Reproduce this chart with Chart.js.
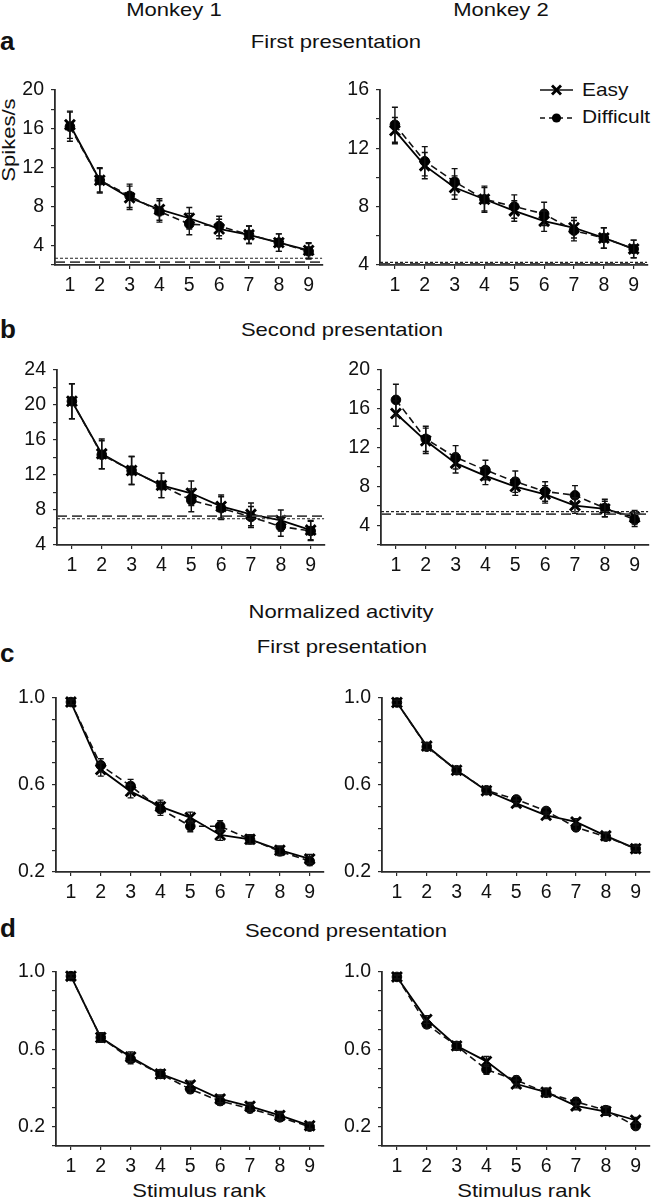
<!DOCTYPE html>
<html>
<head>
<meta charset="utf-8">
<script src="https://cdn.jsdelivr.net/npm/chart.js@4/dist/chart.umd.min.js"></script>
<style>
  html, body { margin: 0; padding: 0; background: #fff; }
  body { width: 653px; height: 1199px; position: relative; overflow: hidden;
         font-family: 'Liberation Sans', Arial, Helvetica, sans-serif; color: #111; }
  .t { position: absolute; font-size: 19px; line-height: 1; white-space: nowrap;
       transform: translateX(-50%) scaleX(1.16); transform-origin: center; }
  .lab { position: absolute; font-size: 26px; font-weight: bold; line-height: 1; left: 0; }
  .lg { position: absolute; font-size: 19px; line-height: 1; white-space: nowrap;
        transform: scaleX(1.1); transform-origin: left; }
  .ylab { position: absolute; font-size: 19px; line-height: 1; white-space: nowrap;
          transform: translate(-50%, -50%) rotate(-90deg) scaleX(1.16); }
  canvas { position: absolute; }
</style>
</head>
<body>

<div class="t" style="left:174px; top:0px;">Monkey 1</div>
<div class="t" style="left:501px; top:0px;">Monkey 2</div>

<div class="lab" style="top:28px;">a</div>
<div class="t" style="left:336px; top:32px;">First presentation</div>
<div class="lab" style="top:316px;">b</div>
<div class="t" style="left:342px; top:320px;">Second presentation</div>
<div class="t" style="left:341px; top:602px;">Normalized activity</div>
<div class="lab" style="top:640px;">c</div>
<div class="t" style="left:342px; top:637px;">First presentation</div>
<div class="lab" style="top:915px;">d</div>
<div class="t" style="left:346px; top:921px;">Second presentation</div>
<div class="t" style="left:199px; top:1181px;">Stimulus rank</div>
<div class="t" style="left:524px; top:1181px;">Stimulus rank</div>

<div class="ylab" style="left:8px; top:140px;">Spikes/s</div>

<!-- legend -->
<svg style="position:absolute; left:536px; top:80px;" width="42" height="48">
  <line x1="4" y1="10" x2="37" y2="10" stroke="#111" stroke-width="1.5"/>
  <line x1="16" y1="5.5" x2="25" y2="14.5" stroke="#000" stroke-width="2.8"/>
  <line x1="16" y1="14.5" x2="25" y2="5.5" stroke="#000" stroke-width="2.8"/>
  <line x1="4" y1="38" x2="37" y2="38" stroke="#111" stroke-width="1.5" stroke-dasharray="5,4"/>
  <circle cx="20.5" cy="38" r="4.6" fill="#000"/>
</svg>
<div class="lg" style="left:582px; top:80px;">Easy</div>
<div class="lg" style="left:582px; top:107px;">Difficult</div>

<canvas id="cA1"></canvas>
<canvas id="cA2"></canvas>
<canvas id="cB1"></canvas>
<canvas id="cB2"></canvas>
<canvas id="cC1"></canvas>
<canvas id="cC2"></canvas>
<canvas id="cD1"></canvas>
<canvas id="cD2"></canvas>

<script>
// ---------------- DATA ----------------
const ranks = [1, 2, 3, 4, 5, 6, 7, 8, 9];

// a: First presentation, spikes/s
const easyA1 = [16.4, 10.7, 8.9, 7.7, 6.8, 5.7, 5.1, 4.3, 3.5];
const diffA1 = [16.2, 10.7, 9.1, 7.5, 6.2, 6.0, 5.1, 4.3, 3.4];
const errEasyA1 = [1.4, 1.3, 1.2, 1.1, 1.1, 1.0, 0.9, 0.9, 0.8];
const errDiffA1 = [1.5, 1.2, 1.2, 1.1, 1.1, 1.0, 0.9, 0.9, 0.8];
const baseA1 = [2.7, 2.3];          // [short-dash, long-dash]

const easyA2 = [13.2, 10.8, 9.3, 8.5, 7.7, 7.0, 6.55, 5.85, 5.1];
const diffA2 = [13.6, 11.1, 9.7, 8.5, 8.0, 7.5, 6.35, 5.85, 5.1];
const errEasyA2 = [0.9, 0.9, 0.8, 0.8, 0.7, 0.7, 0.7, 0.7, 0.6];
const errDiffA2 = [1.2, 1.0, 0.9, 0.9, 0.8, 0.8, 0.7, 0.7, 0.6];
const baseA2 = [4.18, 4.08];

// b: Second presentation, spikes/s
const easyB1 = [20.4, 14.4, 12.5, 10.8, 9.9, 8.4, 7.5, 6.8, 5.7];
const diffB1 = [20.4, 14.3, 12.5, 10.8, 9.1, 8.2, 7.2, 6.1, 5.6];
const errEasyB1 = [2.0, 1.7, 1.6, 1.4, 1.4, 1.3, 1.3, 1.2, 1.1];
const errDiffB1 = [2.0, 1.6, 1.6, 1.4, 1.3, 1.3, 1.2, 1.1, 1.1];
const baseB1 = [7.0, 7.3];

const easyB2 = [15.5, 12.7, 10.4, 9.1, 8.0, 7.2, 6.05, 5.7, 4.85];
const diffB2 = [16.9, 12.9, 11.0, 9.7, 8.5, 7.5, 7.1, 5.8, 4.6];
const errEasyB2 = [1.3, 1.3, 1.0, 0.9, 0.9, 0.9, 0.8, 0.8, 0.7];
const errDiffB2 = [1.6, 1.3, 1.2, 1.0, 1.1, 1.0, 1.0, 0.9, 0.7];
const baseB2 = [5.43, 5.17];

// c: Normalized, first presentation
const easyC1 = [0.98, 0.67, 0.57, 0.50, 0.45, 0.37, 0.35, 0.30, 0.26];
const diffC1 = [0.98, 0.69, 0.595, 0.49, 0.41, 0.41, 0.35, 0.295, 0.25];
const errEasyC1 = [0.012, 0.03, 0.03, 0.03, 0.025, 0.025, 0.02, 0.02, 0.02];
const errDiffC1 = [0.012, 0.03, 0.03, 0.03, 0.025, 0.025, 0.02, 0.02, 0.02];

const easyC2 = [0.978, 0.778, 0.667, 0.573, 0.515, 0.46, 0.43, 0.366, 0.307];
const diffC2 = [0.978, 0.775, 0.667, 0.575, 0.533, 0.48, 0.405, 0.362, 0.307];
const errEasyC2 = [0.01, 0.015, 0.015, 0.015, 0.015, 0.015, 0.015, 0.015, 0.012];
const errDiffC2 = [0.01, 0.015, 0.015, 0.015, 0.015, 0.015, 0.015, 0.015, 0.012];

// d: Normalized, second presentation
const easyD1 = [0.977, 0.66, 0.56, 0.472, 0.415, 0.343, 0.305, 0.258, 0.205];
const diffD1 = [0.977, 0.66, 0.55, 0.472, 0.393, 0.332, 0.293, 0.248, 0.20];
const errEasyD1 = [0.01, 0.025, 0.025, 0.02, 0.02, 0.02, 0.02, 0.02, 0.015];
const errDiffD1 = [0.01, 0.025, 0.025, 0.02, 0.02, 0.02, 0.02, 0.02, 0.015];

const easyD2 = [0.973, 0.753, 0.617, 0.537, 0.42, 0.378, 0.307, 0.278, 0.233];
const diffD2 = [0.973, 0.728, 0.617, 0.495, 0.44, 0.375, 0.328, 0.285, 0.203];
const errEasyD2 = [0.01, 0.02, 0.02, 0.025, 0.02, 0.02, 0.02, 0.02, 0.015];
const errDiffD2 = [0.01, 0.02, 0.02, 0.025, 0.02, 0.02, 0.02, 0.02, 0.015];

// y tick values (minor) and labelled ticks
const yTicksA1 = [2, 4, 6, 8, 10, 12, 14, 16, 18, 20];
const yLabelsA1 = ['4', '8', '12', '16', '20'];
const yTicksA2 = [4, 6, 8, 10, 12, 14, 16];
const yLabelsA2 = ['4', '8', '12', '16'];
const yTicksB1 = [4, 6, 8, 10, 12, 14, 16, 18, 20, 22, 24];
const yLabelsB1 = ['4', '8', '12', '16', '20', '24'];
const yTicksB2 = [2, 4, 6, 8, 10, 12, 14, 16, 18, 20];
const yLabelsB2 = ['4', '8', '12', '16', '20'];
const yTicksC = [0.2, 0.3, 0.4, 0.5, 0.6, 0.7, 0.8, 0.9, 1.0];
const yTicksD = [0.1, 0.2, 0.3, 0.4, 0.5, 0.6, 0.7, 0.8, 0.9, 1.0];
const yLabelsNorm = ['0.2', '0.6', '1.0'];

// ---------------- LAYOUT ----------------
const FONT = "'Liberation Sans', Arial, Helvetica, sans-serif";
const Y_W = 50, X_H = 40, PAD_T = 14, PAD_R = 6;
const AX = '#2a2a2a';

const panels = [
  { id: 'cA1', axisX: 55,  top: 85,  h: 180, w: 271, yMin: 2,   yMax: 20, yt: yTicksA1, yl: yLabelsA1, dec: 0,
    easy: easyA1, diff: diffA1, eE: errEasyA1, eD: errDiffA1, base: baseA1 },
  { id: 'cA2', axisX: 380, top: 85,  h: 180, w: 271, yMin: 4,   yMax: 16, yt: yTicksA2, yl: yLabelsA2, dec: 0,
    easy: easyA2, diff: diffA2, eE: errEasyA2, eD: errDiffA2, base: baseA2 },
  { id: 'cB1', axisX: 57,  top: 365, h: 180, w: 271, yMin: 4,   yMax: 24, yt: yTicksB1, yl: yLabelsB1, dec: 0,
    easy: easyB1, diff: diffB1, eE: errEasyB1, eD: errDiffB1, base: baseB1 },
  { id: 'cB2', axisX: 381, top: 365, h: 180, w: 271, yMin: 2,   yMax: 20, yt: yTicksB2, yl: yLabelsB2, dec: 0,
    easy: easyB2, diff: diffB2, eE: errEasyB2, eD: errDiffB2, base: baseB2 },
  { id: 'cC1', axisX: 56,  top: 693, h: 179, w: 271, yMin: 0.2, yMax: 1.0, yt: yTicksC, yl: yLabelsNorm, dec: 1,
    easy: easyC1, diff: diffC1, eE: errEasyC1, eD: errDiffC1, base: null },
  { id: 'cC2', axisX: 382, top: 693, h: 179, w: 271, yMin: 0.2, yMax: 1.0, yt: yTicksC, yl: yLabelsNorm, dec: 1,
    easy: easyC2, diff: diffC2, eE: errEasyC2, eD: errDiffC2, base: null },
  { id: 'cD1', axisX: 56,  top: 967, h: 179, w: 271, yMin: 0.1, yMax: 1.0, yt: yTicksD, yl: yLabelsNorm, dec: 1,
    easy: easyD1, diff: diffD1, eE: errEasyD1, eD: errDiffD1, base: null },
  { id: 'cD2', axisX: 382, top: 967, h: 179, w: 271, yMin: 0.1, yMax: 1.0, yt: yTicksD, yl: yLabelsNorm, dec: 1,
    easy: easyD2, diff: diffD2, eE: errEasyD2, eD: errDiffD2, base: null },
];

const X_MIN = 0.5, X_MAX = 9.45;

// error bar plugin (uses the chart's y scale)
const errorBars = {
  id: 'errorBars',
  afterDatasetsDraw(chart) {
    const ctx = chart.ctx, ys = chart.scales.y;
    chart.data.datasets.forEach((ds, i) => {
      if (!ds.errors) return;
      const meta = chart.getDatasetMeta(i);
      ctx.save();
      ctx.strokeStyle = '#111';
      ctx.lineWidth = 1.4;
      ctx.setLineDash([]);
      meta.data.forEach((pt, j) => {
        const v = ds.data[j].y, e = ds.errors[j];
        const y1 = ys.getPixelForValue(v + e), y2 = ys.getPixelForValue(v - e), x = pt.x;
        ctx.beginPath();
        ctx.moveTo(x, y1); ctx.lineTo(x, y2);
        ctx.moveTo(x - 3, y1); ctx.lineTo(x + 3, y1);
        ctx.moveTo(x - 3, y2); ctx.lineTo(x + 3, y2);
        ctx.stroke();
      });
      ctx.restore();
    });
  }
};

function pts(arr) { return arr.map((v, i) => ({ x: ranks[i], y: v })); }

panels.forEach(p => {
  const cv = document.getElementById(p.id);
  cv.width = Y_W + p.w + PAD_R;
  cv.height = PAD_T + p.h + X_H;
  cv.style.left = (p.axisX - Y_W) + 'px';
  cv.style.top = (p.top - PAD_T) + 'px';

  const datasets = [];
  if (p.base) {
    datasets.push({
      data: [{ x: X_MIN, y: p.base[0] }, { x: X_MAX, y: p.base[0] }],
      borderColor: '#222', borderWidth: 1.1, borderDash: [3, 2], pointRadius: 0, clip: false
    });
    datasets.push({
      data: [{ x: X_MIN, y: p.base[1] }, { x: X_MAX, y: p.base[1] }],
      borderColor: '#444', borderWidth: 1.6, borderDash: [10, 5], pointRadius: 0, clip: false
    });
  }
  datasets.push({
    label: 'Difficult', data: pts(p.diff), errors: p.eD,
    borderColor: '#111', borderWidth: 1.6, borderDash: [7, 4],
    pointStyle: 'circle', pointRadius: 4.8, pointBackgroundColor: '#000', pointBorderColor: '#000',
    pointBorderWidth: 1, tension: 0, clip: false
  });
  datasets.push({
    label: 'Easy', data: pts(p.easy), errors: p.eE,
    borderColor: '#000', borderWidth: 1.8,
    pointStyle: 'crossRot', pointRadius: 7, pointBorderColor: '#000', pointBorderWidth: 2.9,
    tension: 0, clip: false
  });

  const fmt = v => v.toFixed(p.dec);

  new Chart(cv, {
    type: 'line',
    data: { datasets },
    options: {
      responsive: false,
      animation: false,
      devicePixelRatio: 1,
      layout: { padding: { top: PAD_T, right: PAD_R, left: 0, bottom: 0 } },
      plugins: { legend: { display: false }, tooltip: { enabled: false } },
      scales: {
        x: {
          type: 'linear', min: X_MIN, max: X_MAX,
          afterBuildTicks: s => { s.ticks = ranks.map(v => ({ value: v })); },
          afterFit: s => { s.height = X_H; },
          ticks: { color: '#111', font: { family: FONT, size: 19.5 }, padding: 5,
                   autoSkip: false, maxRotation: 0, callback: v => String(v) },
          grid: { drawOnChartArea: false, drawTicks: true, tickLength: 4, color: AX, lineWidth: 1.2 },
          border: { display: true, color: AX, width: 1.8 }
        },
        y: {
          type: 'linear', min: p.yMin, max: p.yMax,
          afterBuildTicks: s => { s.ticks = p.yt.map(v => ({ value: v })); },
          afterFit: s => { s.width = Y_W; },
          ticks: { color: '#111', font: { family: FONT, size: 19.5 }, padding: 7, autoSkip: false,
                   callback: v => (p.yl.includes(fmt(v)) ? fmt(v) : '') },
          grid: { drawOnChartArea: false, drawTicks: true, tickLength: 4, color: AX, lineWidth: 1.2 },
          border: { display: true, color: AX, width: 1.8 }
        }
      }
    },
    plugins: [errorBars]
  });
});
</script>
</body>
</html>
